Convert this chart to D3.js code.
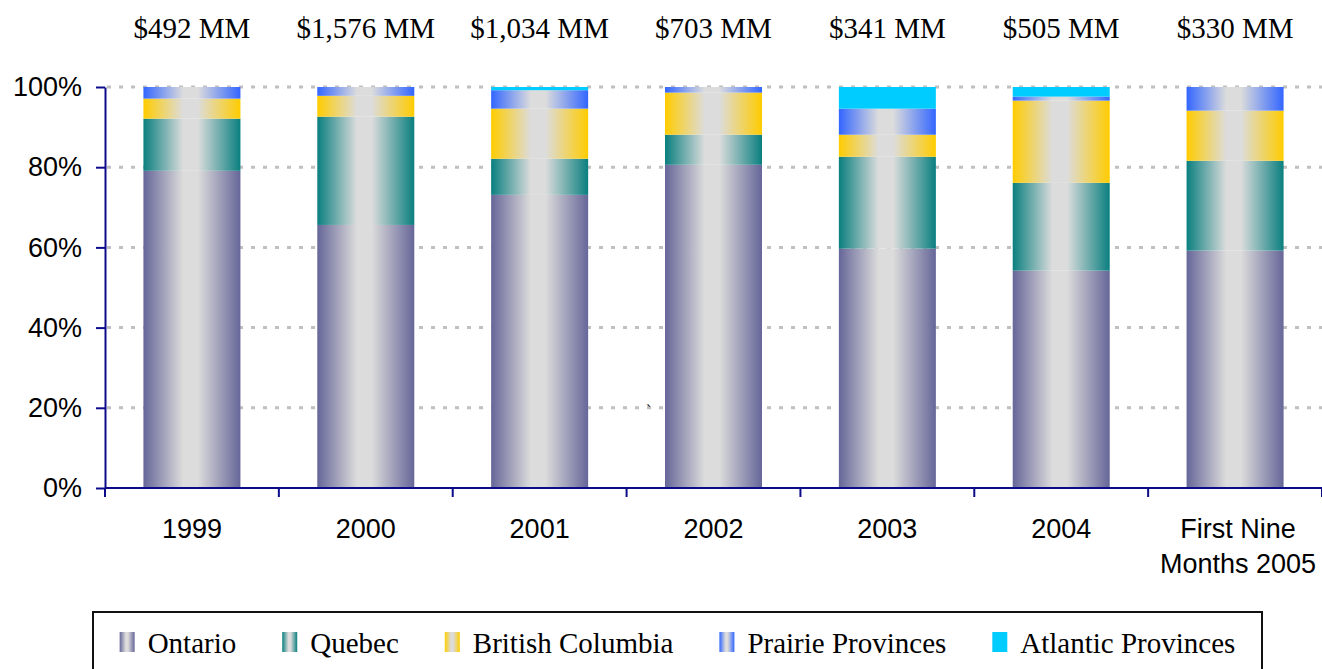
<!DOCTYPE html>
<html>
<head>
<meta charset="utf-8">
<script src="https://cdn.jsdelivr.net/npm/d3@7"></script>
<style>
  html, body { margin: 0; padding: 0; background: #ffffff; }
  svg { display: block; }
</style>
</head>
<body>
<svg id="chart" width="1322" height="669"></svg>
<script>
// Regional share of deal value by year (percent of annual total)
const categories = ["1999", "2000", "2001", "2002", "2003", "2004", "First Nine\nMonths 2005"];
const totals = ["$492 MM", "$1,576 MM", "$1,034 MM", "$703 MM", "$341 MM", "$505 MM", "$330 MM"];
const seriesNames = ["Ontario", "Quebec", "British Columbia", "Prairie Provinces", "Atlantic Provinces"];
const ontario  = [79.1, 65.6, 73.1, 80.6, 59.7, 54.2, 59.2];
const quebec   = [13.0, 27.0,  9.0,  7.5, 22.9, 21.9, 22.4];
const bc       = [ 5.0,  5.2, 12.5, 10.5,  5.5, 20.5, 12.5];
const prairie  = [ 2.9,  2.2,  4.6,  1.4,  6.5,  1.0,  5.9];
const atlantic = [ 0.0,  0.0,  0.8,  0.0,  5.4,  2.4,  0.0];
const yTicks = [0, 20, 40, 60, 80, 100];

const seriesValues = [ontario, quebec, bc, prairie, atlantic];
const seriesColors = ["#666699", "#0a7f7f", "#ffcc00", "#3366ff", "#00ccff"];
const gradientMid = "#dcdcdc";

const table = categories.map((c, i) => {
  const row = { category: c };
  seriesNames.forEach((s, k) => { row[s] = seriesValues[k][i]; });
  return row;
});
const stacked = d3.stack().keys(seriesNames)(table);

const svg = d3.select("#chart");
const axisColor = "#0c0c8a";

const x = d3.scaleBand().domain(categories).range([105, 1322]).paddingInner(0.442).paddingOuter(0.221);
const y = d3.scaleLinear().domain([0, 100]).range([488, 87]);

// Gradients: series colour at the edges fading to silver in the middle
const defs = svg.append("defs");
seriesNames.forEach((s, k) => {
  const g = defs.append("linearGradient")
    .attr("id", "grad" + k)
    .attr("x1", "0%").attr("x2", "100%").attr("y1", "0%").attr("y2", "0%");
  if (k === 4) {
    g.append("stop").attr("offset", "0%").attr("stop-color", seriesColors[k]);
    g.append("stop").attr("offset", "100%").attr("stop-color", seriesColors[k]);
  } else {
    g.append("stop").attr("offset", "0%").attr("stop-color", seriesColors[k]);
    g.append("stop").attr("offset", "41%").attr("stop-color", gradientMid);
    g.append("stop").attr("offset", "56%").attr("stop-color", gradientMid);
    g.append("stop").attr("offset", "100%").attr("stop-color", seriesColors[k]);
  }
});

// Dotted gridlines
svg.append("g")
  .selectAll("line")
  .data(yTicks.filter(d => d > 0))
  .join("line")
  .attr("x1", x.range()[0] + 2)
  .attr("x2", x.range()[1])
  .attr("y1", d => y(d))
  .attr("y2", d => y(d))
  .attr("stroke", "#c0c0c0")
  .attr("stroke-width", 3)
  .attr("stroke-dasharray", "4,8");

// Stacked bars
svg.append("g")
  .selectAll("g")
  .data(stacked)
  .join("g")
  .attr("fill", (d, k) => `url(#grad${k})`)
  .selectAll("rect")
  .data(d => d.filter(p => p[1] - p[0] > 0))
  .join("rect")
  .attr("x", p => x(p.data.category))
  .attr("width", x.bandwidth())
  .attr("y", p => y(p[1]))
  .attr("height", p => y(p[0]) - y(p[1]));

// Y axis
const yAxis = svg.append("g")
  .attr("transform", `translate(${x.range()[0]},0)`)
  .call(d3.axisLeft(y).tickValues(yTicks).tickFormat(d => d + "%").tickSize(9).tickSizeOuter(0).tickPadding(14));
yAxis.select(".domain").attr("stroke", axisColor).attr("stroke-width", 2);
yAxis.selectAll(".tick line").attr("stroke", axisColor).attr("stroke-width", 2);
yAxis.selectAll(".tick text")
  .attr("fill", "#000")
  .style("font-family", "'Liberation Sans', Arial, sans-serif")
  .style("font-size", "27px");

// X axis line and category boundary ticks
svg.append("line")
  .attr("x1", x.range()[0]).attr("x2", x.range()[1])
  .attr("y1", y(0)).attr("y2", y(0))
  .attr("stroke", axisColor).attr("stroke-width", 2);
svg.append("g")
  .selectAll("line")
  .data(d3.range(categories.length + 1))
  .join("line")
  .attr("x1", i => x.range()[0] + i * x.step())
  .attr("x2", i => x.range()[0] + i * x.step())
  .attr("y1", y(0))
  .attr("y2", y(0) + 9)
  .attr("stroke", axisColor)
  .attr("stroke-width", 2);

// Category labels
svg.append("g")
  .selectAll("text")
  .data(categories)
  .join("text")
  .attr("x", d => x(d) + x.bandwidth() / 2)
  .attr("y", 538)
  .attr("text-anchor", "middle")
  .style("font-family", "'Liberation Sans', Arial, sans-serif")
  .style("font-size", "27px")
  .attr("fill", "#000")
  .each(function (d) {
    const t = d3.select(this);
    d.split("\n").forEach((line, i) => {
      t.append("tspan")
        .attr("x", x(d) + x.bandwidth() / 2 + (d.includes("\n") ? 3 : 0))
        .attr("dy", i === 0 ? 0 : 35)
        .text(line);
    });
  });

// Annual totals above the bars
svg.append("g")
  .selectAll("text")
  .data(categories)
  .join("text")
  .attr("x", d => x(d) + x.bandwidth() / 2)
  .attr("y", 38)
  .attr("text-anchor", "middle")
  .style("font-family", "'Liberation Serif', 'Times New Roman', serif")
  .style("font-size", "29px")
  .attr("fill", "#000")
  .text((d, i) => totals[i]);

// Stray mark in the plot area
svg.append("text")
  .attr("x", 646).attr("y", 416)
  .style("font-family", "'Liberation Serif', serif")
  .style("font-size", "16px")
  .text("`");

// Legend
const legendBox = { x: 93, y: 612, w: 1169, h: 80 };
const legend = svg.append("g");
legend.append("rect")
  .attr("x", legendBox.x).attr("y", legendBox.y)
  .attr("width", legendBox.w).attr("height", legendBox.h)
  .attr("fill", "#fff").attr("stroke", "#111").attr("stroke-width", 2);

const items = legend.append("g");
let cursor = 0;
seriesNames.forEach((s, k) => {
  const item = items.append("g").attr("transform", `translate(${cursor},0)`);
  item.append("rect")
    .attr("x", 0).attr("y", 632)
    .attr("width", 15).attr("height", 20)
    .attr("fill", `url(#grad${k})`);
  const t = item.append("text")
    .attr("x", 28).attr("y", 653)
    .style("font-family", "'Liberation Serif', 'Times New Roman', serif")
    .style("font-size", "29px")
    .attr("fill", "#000")
    .text(s);
  cursor += 28 + t.node().getComputedTextLength() + 46;
});
const itemsWidth = cursor - 46;
items.attr("transform", `translate(${legendBox.x + (legendBox.w - itemsWidth) / 2},0)`);
</script>
</body>
</html>
